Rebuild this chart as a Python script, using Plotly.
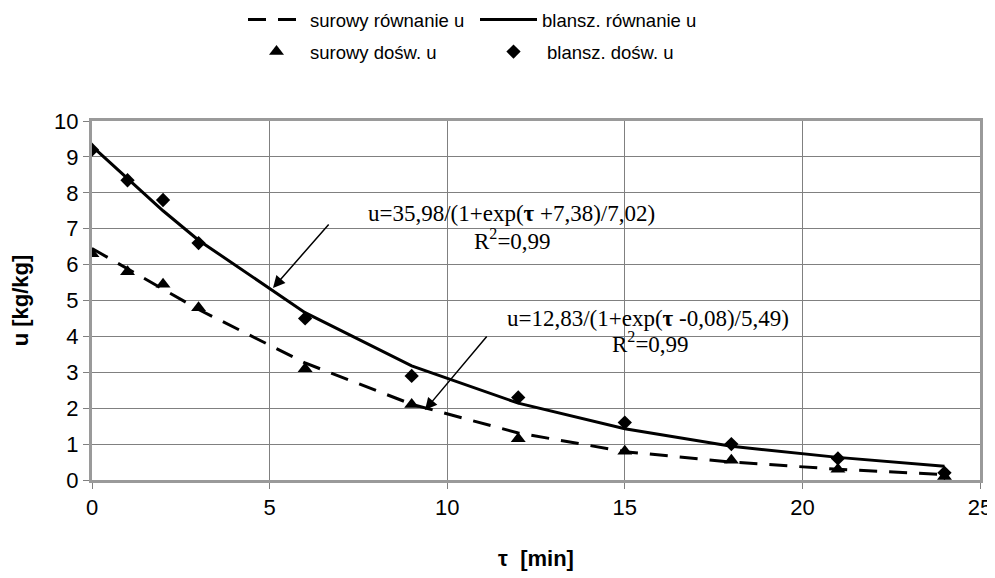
import plotly.graph_objects as go

# data
tau = [0, 1, 2, 3, 6, 9, 12, 15, 18, 21, 24]
surowy_dosw = [6.3, 5.8, 5.45, 4.8, 3.1, 2.1, 1.15, 0.8, 0.55, 0.3, 0.1]
blansz_dosw = [9.2, 8.35, 7.8, 6.6, 4.5, 2.9, 2.3, 1.6, 1.0, 0.6, 0.2]
surowy_rown = [6.45, 5.88, 5.3, 4.75, 3.26, 2.11, 1.31, 0.79, 0.5, 0.3, 0.15]
blansz_rown = [9.3, 8.4, 7.5, 6.68, 4.66, 3.18, 2.14, 1.43, 0.94, 0.63, 0.38]

x_ticks = [0, 5, 10, 15, 20, 25]
y_ticks = list(range(0, 11))

# the page places the figure 8px in from the top-left corner
OFF = 8
W, H = 995 - OFF, 578 - OFF
L, R, T, B = 92 - OFF, 15, 121 - OFF, 98
PW = W - L - R
PH = H - T - B


def px2paper(page_px):
    return (page_px - OFF - L) / PW


def py2data(page_py):
    return (480 - page_py) / PH * 10


def px2data(page_px):
    return (page_px - OFF - L) / PW * 25


fig = go.Figure()
fig.add_trace(go.Scatter(x=tau, y=surowy_rown, mode="lines", name="surowy równanie u", legend="legend",
                         line=dict(color="black", width=3, dash="18px,12px")))
fig.add_trace(go.Scatter(x=tau, y=blansz_rown, mode="lines", name="blansz. równanie u", legend="legend2",
                         line=dict(color="black", width=3)))
fig.add_trace(go.Scatter(x=tau, y=surowy_dosw, mode="markers", name="surowy dośw. u", legend="legend3",
                         marker=dict(symbol="triangle-up", size=13, color="black")))
fig.add_trace(go.Scatter(x=tau, y=blansz_dosw, mode="markers", name="blansz. dośw. u", legend="legend4",
                         marker=dict(symbol="diamond", size=11, color="black")))

serif = "Liberation Serif, Times New Roman, serif"
fig.add_annotation(x=px2data(273), y=py2data(288), ax=57, ay=-65, xref="x", yref="y",
                   showarrow=True, arrowhead=2, arrowsize=1.6, arrowwidth=1.5, arrowcolor="black", text="")
fig.add_annotation(x=px2data(425), y=py2data(410), ax=63, ay=-75, xref="x", yref="y",
                   showarrow=True, arrowhead=2, arrowsize=1.6, arrowwidth=1.5, arrowcolor="black", text="")
fig.add_annotation(x=px2data(511), y=py2data(213), xref="x", yref="y", showarrow=False,
                   text="u=35,98/(1+exp(<b>τ</b> +7,38)/7,02)", font=dict(family=serif, size=23, color="black"))
fig.add_annotation(x=px2data(512), y=py2data(239), xref="x", yref="y", showarrow=False,
                   text="R<sup>2</sup>=0,99", font=dict(family=serif, size=23, color="black"))
fig.add_annotation(x=px2data(648), y=py2data(318), xref="x", yref="y", showarrow=False,
                   text="u=12,83/(1+exp(<b>τ</b> -0,08)/5,49)", font=dict(family=serif, size=23, color="black"))
fig.add_annotation(x=px2data(650), y=py2data(342), xref="x", yref="y", showarrow=False,
                   text="R<sup>2</sup>=0,99", font=dict(family=serif, size=23, color="black"))

leg_common = dict(orientation="h", xanchor="left", yanchor="middle", yref="container",
                  font=dict(size=18.5), bgcolor="rgba(0,0,0,0)", itemwidth=57, borderwidth=0)
row1 = 1 - (20 - OFF) / H
row2 = 1 - (52 - OFF) / H

fig.update_layout(
    width=W, height=H,
    margin=dict(l=L, r=R, t=T, b=B),
    paper_bgcolor="white", plot_bgcolor="white",
    font=dict(family="Liberation Sans, Arial, sans-serif", color="black", size=22),
    showlegend=True,
    legend=dict(x=px2paper(243), y=row1, **leg_common),
    legend2=dict(x=px2paper(475), y=row1, **leg_common),
    legend3=dict(x=px2paper(243), y=row2, **leg_common),
    legend4=dict(x=px2paper(480), y=row2, **leg_common),
    xaxis=dict(range=[0, 25], tickvals=x_ticks, showgrid=True, gridcolor="#808080", gridwidth=1,
               showline=True, mirror=True, linecolor="#9a9a9a", linewidth=3,
               ticks="outside", ticklen=6, tickcolor="#808080", zeroline=False, automargin=False,
               tickfont=dict(size=22),
               title=dict(text="<b>τ&nbsp; [min]</b>", font=dict(size=22), standoff=32)),
    yaxis=dict(range=[0, 10], tickvals=y_ticks, showgrid=True, gridcolor="#808080", gridwidth=1,
               showline=True, mirror=True, linecolor="#9a9a9a", linewidth=3,
               ticks="outside", ticklen=6, tickcolor="#808080", zeroline=False, automargin=False,
               tickfont=dict(size=22),
               title=dict(text="<b>u [kg/kg]</b>", font=dict(size=22), standoff=22)),
)
fig.write_html("out.html")
